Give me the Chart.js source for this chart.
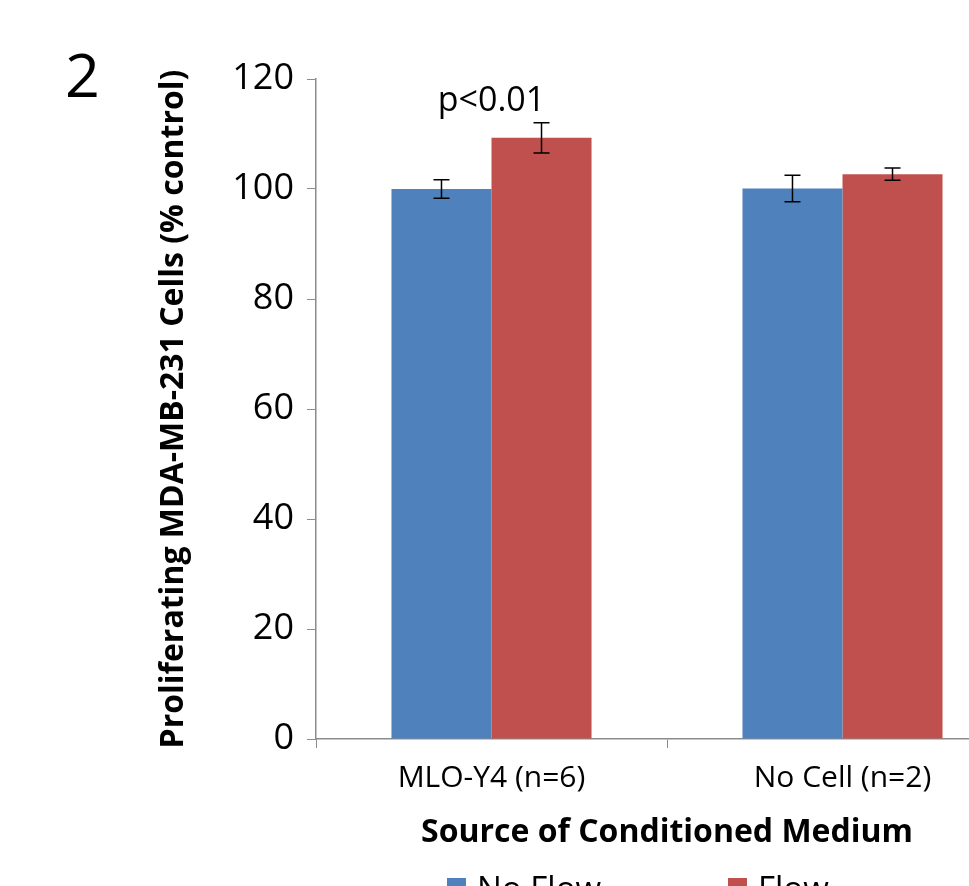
<!DOCTYPE html>
<html lang="en">
<head>
  <meta charset="UTF-8">
  <title>Proliferating cells</title>
  <script src="https://cdn.jsdelivr.net/npm/chart.js@4.4.0/dist/chart.umd.min.js"></script>
  <style>
    body { margin: 0; overflow: hidden; background: #fff; }
    #wrap { position: absolute; left: 0; top: 0; width: 1040px; height: 900px; }
    #panel { position: absolute; left: 65px; top: 32px; font-family: "Open Sans", sans-serif; font-size: 61px; color: #000; }
  </style>
</head>
<body>
  <div id="wrap"><canvas id="chart" width="1040" height="900"></canvas></div>
  <div id="panel">2</div>

<script>
  const categories = ['MLO-Y4 (n=6)', 'No Cell (n=2)'];
  const seriesNames = ['No Flow', 'Flow'];
  const noFlow = [100, 100.1];
  const flow = [109.3, 102.7];
  const noFlowErr = [1.7, 2.4];
  const flowErr = [2.75, 1.1];
  const yTicks = [0, 20, 40, 60, 80, 100, 120];
  const annotations = [{ category: 0, value: 116, text: 'p<0.01' }];

  const axisGray = '#8c8c8c';
  const font = '"Open Sans", sans-serif';

  // error bars, p-value text and legend drawn on top of the bars
  const extras = {
    id: 'extras',
    afterDatasetsDraw(chart) {
      const ctx = chart.ctx;
      const y = chart.scales.y;
      const errs = [noFlowErr, flowErr];
      ctx.save();
      ctx.strokeStyle = '#000';
      ctx.lineWidth = 1.5;
      chart.data.datasets.forEach((ds, i) => {
        const meta = chart.getDatasetMeta(i);
        meta.data.forEach((bar, j) => {
          const v = ds.data[j], e = errs[i][j];
          const top = y.getPixelForValue(v + e);
          const bot = y.getPixelForValue(v - e);
          ctx.beginPath();
          ctx.moveTo(bar.x, top); ctx.lineTo(bar.x, bot);
          ctx.moveTo(bar.x - 8, top); ctx.lineTo(bar.x + 8, top);
          ctx.moveTo(bar.x - 8, bot); ctx.lineTo(bar.x + 8, bot);
          ctx.stroke();
        });
      });
      ctx.fillStyle = '#000';
      ctx.font = '34px ' + font;
      ctx.textAlign = 'center';
      ctx.textBaseline = 'middle';
      annotations.forEach(a => {
        ctx.fillText(a.text, chart.scales.x.getPixelForValue(a.category), y.getPixelForValue(a.value));
      });
      ctx.restore();
    },
    afterDraw(chart) {
      const ctx = chart.ctx;
      const xs = [447, 728];
      ctx.save();
      ctx.font = '33px ' + font;
      ctx.textBaseline = 'alphabetic';
      chart.data.datasets.forEach((ds, i) => {
        ctx.fillStyle = ds.backgroundColor;
        ctx.fillRect(xs[i], 878, 19, 19);
        ctx.fillStyle = '#000';
        ctx.fillText(ds.label, xs[i] + 30, 900);
      });
      ctx.restore();
    }
  };

  const ctx = document.getElementById('chart').getContext('2d');
  const myChart = new Chart(ctx, {
    type: 'bar',
    data: {
      labels: categories,
      datasets: [
        { label: seriesNames[0], data: noFlow, backgroundColor: '#4F81BD' },
        { label: seriesNames[1], data: flow, backgroundColor: '#C0504D' }
      ]
    },
    plugins: [extras],
    options: {
      responsive: false,
      animation: false,
      layout: { padding: { left: 153, right: 22, top: 79, bottom: 0 } },
      datasets: { bar: { categoryPercentage: 0.57, barPercentage: 1 } },
      plugins: { legend: { display: false }, tooltip: { enabled: false } },
      scales: {
        x: {
          afterFit: s => { s.height = 161; },
          grid: { offset: true, drawOnChartArea: false, drawTicks: true, tickLength: 9, color: axisGray },
          border: { color: axisGray, width: 1.5 },
          ticks: { color: '#000', font: { family: font, size: 30 }, padding: 12 },
          title: { display: true, text: 'Source of Conditioned Medium', color: '#000',
                   font: { family: font, size: 32, weight: 'bold' }, padding: { top: 0, bottom: 48 } }
        },
        y: {
          min: 0, max: 120,
          afterFit: s => { s.width = 163; },
          afterBuildTicks: s => { s.ticks = yTicks.map(v => ({ value: v })); },
          grid: { drawOnChartArea: false, drawTicks: true, tickLength: 9, color: axisGray },
          border: { color: axisGray, width: 1.5 },
          ticks: { color: '#000', font: { family: font, size: 36 }, padding: 13 },
          title: { display: true, text: 'Proliferating MDA-MB-231 Cells (% control)', color: '#000',
                   font: { family: font, size: 32, weight: 'bold' }, padding: { top: 2, bottom: 2 } }
        }
      }
    }
  });
</script>
</body>
</html>
